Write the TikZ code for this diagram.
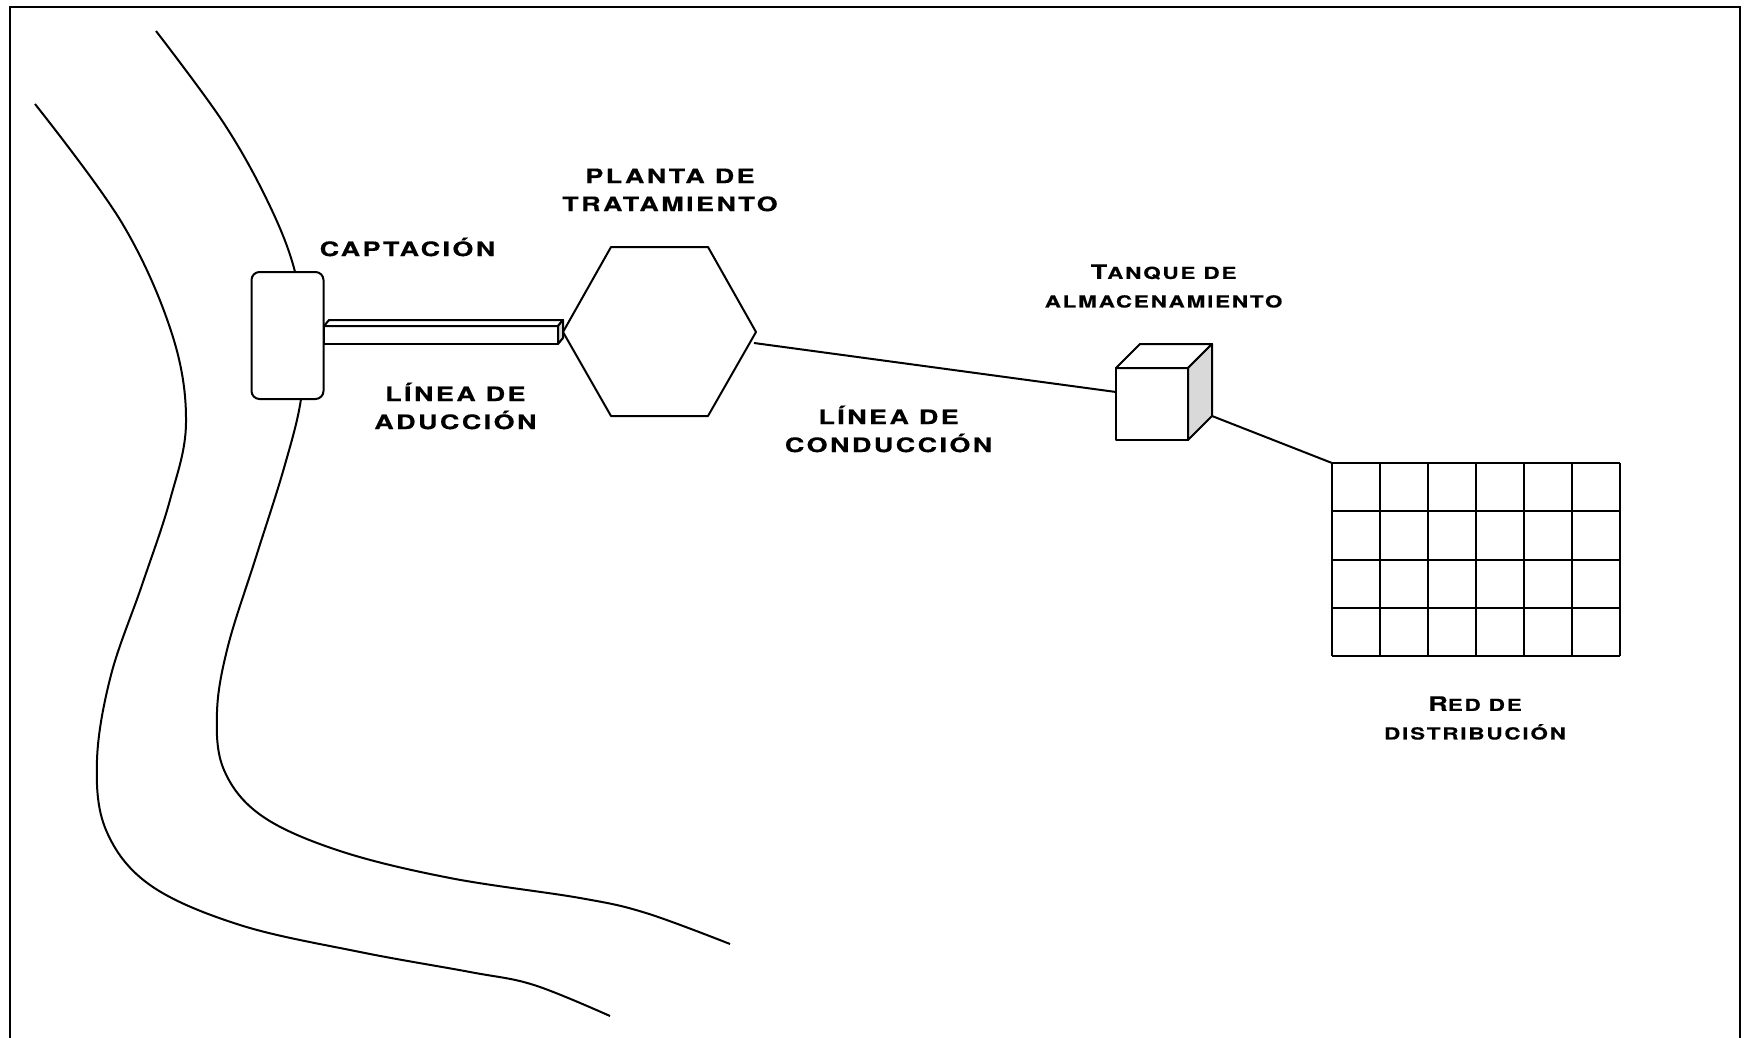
\documentclass[tikz,border=0pt]{standalone}
\usepackage{fontspec}
\newfontfamily\labfont[FakeStretch=1.35,LetterSpace=12,FakeBold=0.4]{texgyreheros-bold.otf}
\newfontfamily\sclabfont[FakeStretch=1.35,LetterSpace=11,FakeBold=0.4]{texgyreheros-bold.otf}
\usetikzlibrary{calc}
% first letter larger, rest in reduced capitals
\newcommand\capfirst[2]{{\fontsize{10pt}{14.3pt}\selectfont #1}#2}
\tikzset{
  thinline/.style={line width=1pt, line join=round},
  framebox/.style={line width=1.4pt},
  biglabel/.style={font=\labfont\fontsize{10pt}{14pt}\selectfont, align=center, inner sep=0pt},
  smalllabel/.style={font=\sclabfont\fontsize{8.3pt}{14.3pt}\selectfont, align=center, inner sep=0pt},
  intake/.style={draw, thinline, fill=white, rounded corners=4pt, minimum width=36pt, minimum height=63.5pt, inner sep=0pt},
  sideface/.style={fill=gray!30, draw, thinline}
}
\begin{document}
\begin{tikzpicture}[x=0.5pt, y=-0.5pt]
\useasboundingbox (0,0) rectangle (1746,1038);

% outer frame
\draw[framebox] (10,1045) -- (10,7) -- (1740,7) -- (1740,1045);

% river banks
\draw[thinline] plot[smooth, tension=0.6] coordinates {
  (35,104) (122,223) (172,334) (186,423) (170,500) (142,585) (111,675)
  (97,760) (106,830) (150,885) (240,925) (360,952) (470,972) (534,985) (610,1016)};
\draw[thinline] plot[smooth, tension=0.6] coordinates {
  (156,31) (223,122) (267,200) (294,268) (304,335) (301,399) (284,468)
  (256,557) (228,646) (217,712) (224,770) (262,816) (340,851) (450,878)
  (580,898) (646,913) (730,944)};

% intake structure
\node[intake] (capt) at (287.5,335.5) {};

% adduction pipe (prism)
\coordinate (pA) at (324,326);
\coordinate (pB) at (558,326);
\coordinate (pC) at (558,344);
\coordinate (pD) at (324,344);
\coordinate (pE) at (329,320);
\coordinate (pF) at (563,320);
\coordinate (pG) at (563,338);
\draw[thinline, fill=white] (pA) -- (pB) -- (pC) -- (pD) -- cycle;
\draw[thinline, fill=white] (pA) -- (pE) -- (pF) -- (pB) -- cycle;
\draw[sideface] (pB) -- (pF) -- (pG) -- (pC) -- cycle;

% treatment plant (hexagon)
\coordinate (hL) at (563,332);
\coordinate (hTL) at (611,247);
\coordinate (hTR) at (708,247);
\coordinate (hR) at (756,332);
\coordinate (hBR) at (708,416);
\coordinate (hBL) at (611,416);
\draw[thinline] (hL) -- (hTL) -- (hTR) -- (hR) -- (hBR) -- (hBL) -- cycle;
\coordinate (hOut) at (754,343);

% storage tank (cube)
\coordinate (c1) at (1116,368);
\coordinate (c2) at (1188,368);
\coordinate (c3) at (1188,440);
\coordinate (c4) at (1116,440);
\coordinate (c5) at (1140,344);
\coordinate (c6) at (1212,344);
\coordinate (c7) at (1212,416);
\coordinate (cIn) at (1116,392);
\draw[thinline, fill=white] (c1) -- (c2) -- (c3) -- (c4) -- cycle;
\draw[thinline, fill=white] (c1) -- (c5) -- (c6) -- (c2) -- cycle;
\draw[sideface] (c2) -- (c6) -- (c7) -- (c3) -- cycle;

% distribution network (grid)
\coordinate (gNW) at (1332,463);
\foreach \i in {0,...,6} {
  \draw[thinline] (1332+48*\i,463) -- (1332+48*\i,656);
}
\foreach \j in {0,...,4} {
  \draw[thinline] (1332,463+48.25*\j) -- (1620,463+48.25*\j);
}

% conduction lines
\draw[thinline] (hOut) -- (cIn);
\draw[thinline] (c7) -- (gNW);

% labels
\node[biglabel] (lcapt) at (407.5,247) {CAPTACIÓN};
\node[biglabel] (lplanta) at (670,190) {PLANTA DE\\TRATAMIENTO};
\node[biglabel] (laduc) at (455.4,406) {LÍNEA DE\\ADUCCIÓN};
\node[biglabel] (lcond) at (888.6,429) {LÍNEA DE\\CONDUCCIÓN};
\node[smalllabel] (ltanque) at (1163.6,286) {\capfirst{T}{ANQUE DE}\\ALMACENAMIENTO};
\node[smalllabel] (lred) at (1475,718) {\capfirst{R}{ED DE}\\DISTRIBUCIÓN};
\end{tikzpicture}
\end{document}
